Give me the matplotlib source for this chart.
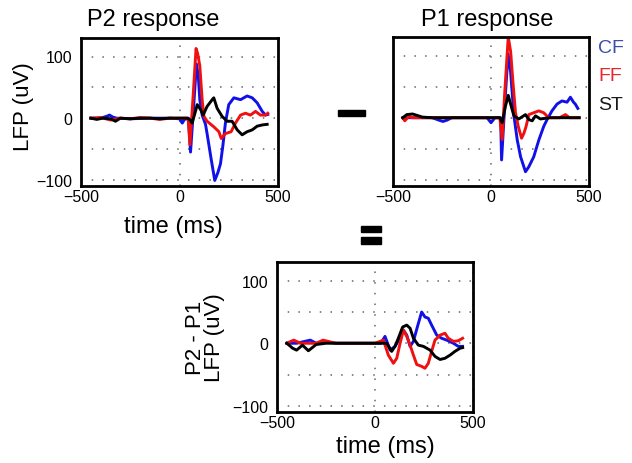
import numpy as np
import matplotlib
matplotlib.use('Agg')
import matplotlib.pyplot as plt
from matplotlib.patches import Rectangle

plt.rcParams['font.family'] = ['Liberation Sans', 'DejaVu Sans']

# P2 response, time in ms, LFP in uV
p2_cf_t = [-450, -400, -370, -355, -340, -320, -250, -150, -50, 0, 14, 25, 45, 56, 70, 86, 95, 103,
           115, 132, 140, 160, 179, 195, 208, 220, 233, 250, 276, 310, 343, 369, 394, 420, 437, 448]
p2_cf_v = [0, 0, 3, 5, 2, 0, -1, 0, 0, -1, -8, -2, 0, -55, 10, 88, 70, 30,
           5, -10, -25, -65, -101, -88, -74, -45, -8, 22, 33, 30, 36, 33, 25, 11, 5, 6]
p2_ff_t = [-450, -400, -350, -300, -250, -200, -150, -100, -50, 0, 40, 45, 53, 70, 84, 92, 103,
           115, 124, 140, 174, 200, 212, 233, 262, 284, 310, 335, 360, 386, 411, 437, 448]
p2_ff_v = [0, 1, -3, 0, -1, 1, 0, -2, 0, 0, 0, -5, -43, 40, 113, 105, 85,
           30, 3, -5, -14, -22, -33, -25, -22, -8, 5, 8, 5, 11, 5, 5, 8]
p2_st_t = [-450, -420, -390, -350, -325, -300, -250, -200, -150, -100, -50, 0, 40, 55, 64, 81, 90,
           107, 120, 140, 166, 174, 191, 216, 242, 267, 293, 318, 343, 369, 394, 420, 445]
p2_st_v = [0, -2, 0, -1, -5, 0, -1, 0, 0, -1, 0, 0, 0, -3, -8, 11, 22,
           14, 5, 19, 30, 33, 16, 3, -5, -5, -19, -27, -22, -19, -13, -11, -10]

# P1 response
p1_cf_t = [-450, -400, -300, -265, -245, -225, -200, -100, -20, 0, 20, 49, 54, 70, 87, 100, 117,
           134, 151, 176, 193, 218, 244, 269, 286, 311, 337, 362, 388, 405, 421, 430, 443]
p1_cf_v = [0, 0, 0, -4, -6, -4, 0, 0, 0, -8, 0, 0, -68, 20, 103, 74, 3,
           -36, -63, -87, -79, -63, -36, -14, -3, 11, 22, 27, 25, 33, 25, 22, 15]
p1_ff_t = [-450, -440, -420, -400, -300, -200, -100, 0, 45, 57, 70, 88, 100, 112, 125, 139,
           156, 168, 179, 193, 218, 244, 269, 294, 350, 380, 400, 450]
p1_ff_v = [0, -5, 2, 0, 0, 0, 0, 0, 0, -35, 40, 130, 107, 57, 8, -14,
           -33, -25, -14, 5, 8, 11, 8, 0, 0, 5, 0, 0]
p1_st_t = [-450, -430, -400, -380, -350, -300, -200, -100, 0, 45, 57, 74, 88, 100, 117, 142,
           176, 193, 210, 227, 252, 300, 450]
p1_st_v = [0, 5, 6, 4, 1, 0, 0, 0, 0, 0, -8, 19, 36, 22, 3, -2,
           5, -3, -5, 3, -2, 0, 0]

# P2 - P1
df_cf_t = [-450, -400, -330, -300, -250, -200, -100, 0, 30, 51, 77, 102, 128, 145, 162, 179, 196,
           216, 238, 255, 272, 289, 315, 340, 366, 400, 425, 447]
df_cf_v = [0, 0, 5, 0, 2, 0, 0, 0, 0, 11, -11, -5, 8, 21, 13, -5, 3,
           26, 50, 42, 40, 29, 13, 8, 5, 0, -5, -5]
df_ff_t = [-450, -415, -380, -300, -265, -200, -100, 0, 43, 68, 94, 111, 128, 145, 162, 179, 196,
           213, 238, 255, 272, 289, 306, 332, 357, 374, 400, 425, 447]
df_ff_v = [0, 5, 0, 0, 5, 0, 0, 0, 5, -19, -32, -24, 0, 21, 11, -3, -19,
           -34, -37, -40, -32, -13, 5, 13, 16, 8, 3, 4, 8]
df_st_t = [-450, -420, -400, -370, -340, -300, -250, -200, -100, 0, 60, 85, 102, 119, 141, 162,
           179, 196, 221, 247, 281, 306, 332, 357, 383, 408, 434, 447]
df_st_v = [0, -8, -11, -3, -12, -2, 0, 0, 0, 0, 0, -13, -5, 8, 26, 29,
           24, 8, -3, -5, -11, -21, -26, -24, -19, -13, -8, -7]

conds = ['CF', 'FF', 'ST']
line_colors = ['#1010e8', '#f01010', 'black']
text_colors = ['#3b4eaa', '#e8262c', '#1a1a1a']

W, H = 632, 464


def fig_rect(left, top, right, bottom):
    # pixel box -> figure fraction [l, b, w, h]
    return [left / W, 1 - bottom / H, (right - left) / W, (bottom - top) / H]


def setup_axes(ax, ylabels=True):
    ax.set_xlim(-500, 500)
    ax.set_ylim(-110, 130)
    ax.set_xticks([-500, 0, 500])
    ax.set_xticklabels(['\u2212500', '0', '500'])
    ax.set_yticks([-100, -50, 0, 50, 100])
    if ylabels:
        ax.set_yticklabels(['\u2212100', '', '0', '', '100'])
    else:
        ax.set_yticklabels([])
    ax.tick_params(length=0, labelsize=11.5)
    ax.tick_params(axis='x', pad=2)
    ax.tick_params(axis='y', pad=6)
    ax.grid(True, color='0.4', linewidth=1.1, linestyle=(0, (1, 6)))
    for s in ax.spines.values():
        s.set_linewidth(2)
    ax.set_axisbelow(True)


def draw(ax, series):
    for (t, v), c in zip(series, line_colors):
        ax.plot(t, v, color=c, lw=2.1, solid_joinstyle='round')


fig = plt.figure(figsize=(W / 100, H / 100), dpi=100)

ax1 = fig.add_axes(fig_rect(81, 39, 278, 187))
setup_axes(ax1)
draw(ax1, [(p2_cf_t, p2_cf_v), (p2_ff_t, p2_ff_v), (p2_st_t, p2_st_v)])

ax2 = fig.add_axes(fig_rect(393, 38, 589, 187))
setup_axes(ax2, ylabels=False)
draw(ax2, [(p1_cf_t, p1_cf_v), (p1_ff_t, p1_ff_v), (p1_st_t, p1_st_v)])

ax3 = fig.add_axes(fig_rect(277, 263, 473, 413))
setup_axes(ax3)
draw(ax3, [(df_cf_t, df_cf_v), (df_ff_t, df_ff_v), (df_st_t, df_st_v)])

# titles and axis labels
fig.text(153 / W, 1 - 20 / H, 'P2 response', fontsize=17, ha='center', va='center')
fig.text(487 / W, 1 - 20 / H, 'P1 response', fontsize=17, ha='center', va='center')
fig.text(173 / W, 1 - 227 / H, 'time (ms)', fontsize=17, ha='center', va='center')
fig.text(385 / W, 1 - 447 / H, 'time (ms)', fontsize=17, ha='center', va='center')
fig.text(24 / W, 1 - 107 / H, 'LFP (uV)', fontsize=16, ha='center', va='center', rotation=90)
fig.text(205 / W, 1 - 338 / H, 'P2 - P1\nLFP (uV)', fontsize=16, ha='center', va='center',
         rotation=90, linespacing=0.85)

# legend as coloured words
for i, (name, c) in enumerate(zip(conds, text_colors)):
    fig.text(598 / W, 1 - (48.5 + 28.3 * i) / H, name, color=c, fontsize=14, ha='left', va='center')

# big minus and equals signs between panels
for (l, t, r, b) in [(338, 111, 365, 117), (361, 227, 381, 233), (361, 238, 381, 245)]:
    fig.patches.append(Rectangle((l / W, 1 - b / H), (r - l) / W, (b - t) / H,
                                 transform=fig.transFigure, color='black', figure=fig))

fig.savefig('out.png', dpi=100)
